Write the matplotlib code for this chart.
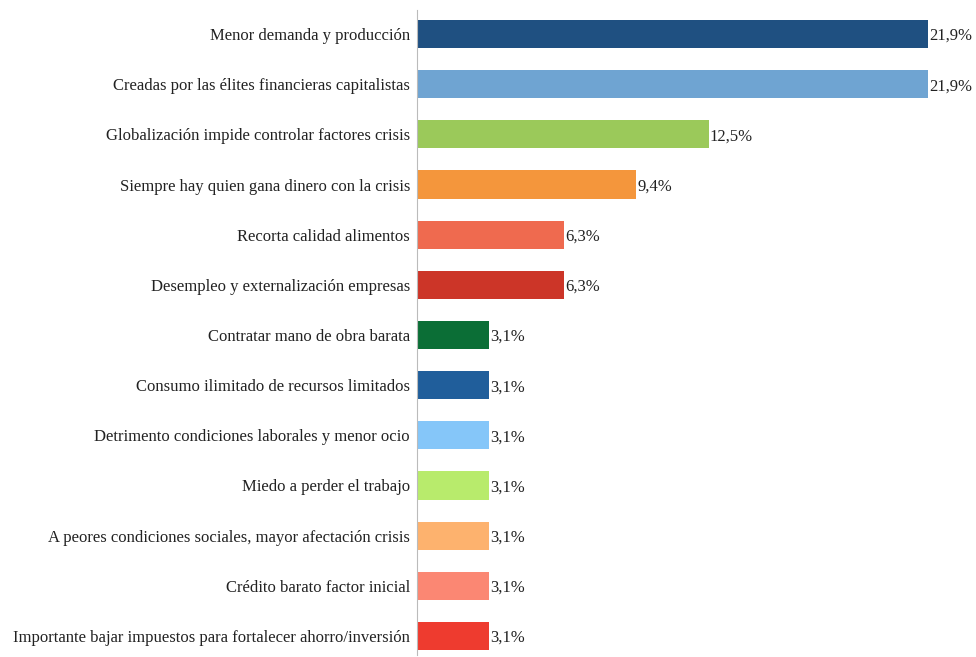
import matplotlib.pyplot as plt

categories = ['Menor demanda y producción',
              'Creadas por las élites financieras capitalistas',
              'Globalización impide controlar factores crisis',
              'Siempre hay quien gana dinero con la crisis',
              'Recorta calidad alimentos',
              'Desempleo y externalización empresas',
              'Contratar mano de obra barata',
              'Consumo ilimitado de recursos limitados',
              'Detrimento condiciones laborales y menor ocio',
              'Miedo a perder el trabajo',
              'A peores condiciones sociales, mayor afectación crisis',
              'Crédito barato factor inicial',
              'Importante bajar impuestos para fortalecer ahorro/inversión']
values = [21.9, 21.9, 12.5, 9.4, 6.3, 6.3, 3.1, 3.1, 3.1, 3.1, 3.1, 3.1, 3.1]
value_labels = ['21,9%', '21,9%', '12,5%', '9,4%', '6,3%', '6,3%',
                '3,1%', '3,1%', '3,1%', '3,1%', '3,1%', '3,1%', '3,1%']
colors = ['#1F5081', '#6FA4D2', '#9BC95A', '#F4963C', '#EF6A4F', '#CC3528',
          '#0B6E36', '#205E9B', '#85C6F9', '#B8EB6C', '#FDB26E', '#FB8773', '#EE3B2F']

plt.rcParams['font.family'] = ['Liberation Serif', 'DejaVu Serif']

fig = plt.figure(figsize=(9.76, 6.57), dpi=100)
ax = fig.add_axes([417/976, 2/657, (976-417)/976, 645/657])

y = list(range(len(categories)))
ax.barh(y, values, height=0.56, color=colors)
for i in y:
    ax.text(values[i] + 0.05, i, value_labels[i], va='center_baseline', ha='left',
            fontsize=12, color='#222222')

ax.set_yticks(y)
ax.set_yticklabels(categories, fontsize=12, color='#222222', va='center_baseline')
ax.tick_params(axis='y', length=0, pad=5)
ax.set_xticks([])
ax.set_xlim(0, (976-417)/23.33)
ax.set_ylim(12.38, -0.48)
for s in ['top', 'right', 'bottom']:
    ax.spines[s].set_visible(False)
ax.spines['left'].set_color('#BBBBBB')

fig.savefig('out.png', dpi=100)
